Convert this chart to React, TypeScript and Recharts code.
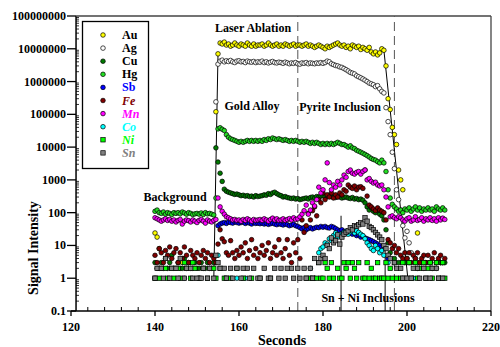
import { ReferenceLine, Scatter, ScatterChart, XAxis, YAxis } from "recharts";

const _ = null;

// sample times, 0.5 s apart
const seconds = [
  140, 140.5, 141, 141.5, 142, 142.5, 143, 143.5, 144, 144.5,
  145, 145.5, 146, 146.5, 147, 147.5, 148, 148.5, 149, 149.5,
  150, 150.5, 151, 151.5, 152, 152.5, 153, 153.5, 154, 154.5,
  155, 155.5, 156, 156.5, 157, 157.5, 158, 158.5, 159, 159.5,
  160, 160.5, 161, 161.5, 162, 162.5, 163, 163.5, 164, 164.5,
  165, 165.5, 166, 166.5, 167, 167.5, 168, 168.5, 169, 169.5,
  170, 170.5, 171, 171.5, 172, 172.5, 173, 173.5, 174, 174.5,
  175, 175.5, 176, 176.5, 177, 177.5, 178, 178.5, 179, 179.5,
  180, 180.5, 181, 181.5, 182, 182.5, 183, 183.5, 184, 184.5,
  185, 185.5, 186, 186.5, 187, 187.5, 188, 188.5, 189, 189.5,
  190, 190.5, 191, 191.5, 192, 192.5, 193, 193.5, 194, 194.5,
  195, 195.5, 196, 196.5, 197, 197.5, 198, 198.5, 199, 199.5,
  200, 200.5, 201, 201.5, 202, 202.5, 203, 203.5, 204, 204.5,
  205, 205.5, 206, 206.5, 207, 207.5, 208, 208.5, 209,
];

const au = [
  24, 18, 8, _, _, _, _, _, _, _,
  _, _, _, 3, _, _, _, _, _, _,
  _, _, _, _, _, _, _, _, _, 1.2e5,
  7e6, 1.5e7, 1.4e7, 1.6e7, 1.3e7, 1.4e7, 1.2e7, 1.3e7, 1.5e7, 1.3e7,
  1.2e7, 1.4e7, 1.3e7, 1.2e7, 1.5e7, 1.3e7, 1.2e7, 1.4e7, 1.2e7, 1.3e7,
  1.3e7, 1.4e7, 1.2e7, 1.3e7, 1.5e7, 1.3e7, 1.2e7, 1.3e7, 1.4e7, 1.2e7,
  1.3e7, 1.2e7, 1.4e7, 1.3e7, 1.2e7, 1.3e7, 1.4e7, 1.2e7, 1.3e7, 1.3e7,
  1.2e7, 1.3e7, 1.4e7, 1.2e7, 1.3e7, 1.2e7, 1.1e7, 1.2e7, 1.3e7, 1.2e7,
  1.1e7, 1.0e7, 1.2e7, 1.1e7, 1.2e7, 1.3e7, 1.4e7, 1.5e7, 1.3e7, 1.2e7,
  1.3e7, 1.1e7, 1.2e7, 1.0e7, 1.3e7, 1.2e7, 1.1e7, 1.2e7, 9.5e6, 1.1e7,
  1.0e7, 9e6, 1.1e7, 8e6, 7e6, 8e6, 6.5e6, 7.5e6, 1.0e7, 9e6,
  3e6, 3e5, 1.4e5, 4e4, 2.4e4, 1.2e4, 2e3, 1e3, 500, _,
  4, _, _, _, _, 24, _, _, 2, _,
  _, _, 2, _, _, _, 3, _, _,
];

const ag = [
  _, _, _, _, _, _, _, _, _, _,
  _, _, _, _, _, _, _, _, _, _,
  _, _, _, _, _, _, _, _, _, 2.4e5,
  3.4e6, 4.2e6, 4.5e6, 4.0e6, 4.3e6, 4.1e6, 4.4e6, 4.0e6, 3.8e6, 4.2e6,
  4.3e6, 4.0e6, 4.1e6, 3.8e6, 4.2e6, 4.0e6, 3.9e6, 4.1e6, 3.8e6, 4.0e6,
  3.9e6, 4.2e6, 3.8e6, 4.0e6, 3.7e6, 3.9e6, 4.1e6, 3.8e6, 3.7e6, 3.9e6,
  3.8e6, 3.6e6, 3.9e6, 3.7e6, 3.5e6, 3.7e6, 3.6e6, 3.8e6, 3.5e6, 3.4e6,
  3.7e6, 3.6e6, 3.8e6, 3.5e6, 3.7e6, 3.6e6, 3.5e6, 3.7e6, 3.6e6, 3.8e6,
  3.6e6, 3.8e6, 4.2e6, 4.0e6, 3.5e6, 3.3e6, 3.1e6, 3.0e6, 2.8e6, 2.7e6,
  2.5e6, 2.3e6, 2.1e6, 1.9e6, 1.8e6, 1.7e6, 1.5e6, 1.4e6, 1.3e6, 1.2e6,
  1.1e6, 1.0e6, 9e5, 8.5e5, 8e5, 7e5, 7.5e5, 6e5, 5e5, 4.5e5,
  1.6e5, 6e4, 2.4e4, 7e3, 2.2e3, 500, 250, 120, 40, 17,
  27, 12, 6, _, 4, _, 3, _, _, _,
  _, 3, _, _, 2, _, _, 3, _,
];

const cu = [
  3, 2, 2, 3, 2, 4, 2, 3, 5, 2,
  2, 3, 2, 2, 4, 2, 3, 2, 2, 3,
  2, 2, 3, 2, 2, 3, 2, 2, 3, 9500,
  3500, 1600, 900, 520, 450, 420, 400, 380, 360, 370,
  350, 330, 340, 320, 330, 310, 320, 300, 330, 310,
  320, 330, 350, 340, 380, 360, 400, 420, 380, 350,
  330, 300, 310, 290, 280, 270, 280, 260, 270, 250,
  260, 270, 280, 260, 290, 300, 280, 310, 300, 320,
  330, 310, 320, 340, 310, 300, 290, 310, 300, 280,
  290, 300, 280, 270, 290, 260, 270, 250, 260, 240,
  200, 150, 120, 140, 110, 100, 120, 90, 80, 60,
  30, 12, 6, _, 4, _, 3, _, _, 3,
  _, 3, _, _, 3, 2, _, 3, _, 3,
  _, 3, 2, _, 3, _, 3, _, 3,
];

const hg = [
  110, 120, 100, 95, 105, 90, 100, 95, 88, 100,
  95, 100, 92, 105, 98, 90, 100, 95, 88, 92,
  95, 90, 98, 88, 100, 92, 95, 90, 85, 280,
  3.6e4, 3.9e4, 3.5e4, 3.2e4, 2.4e4, 2.0e4, 1.8e4, 1.7e4, 1.6e4, 1.5e4,
  1.4e4, 1.5e4, 1.4e4, 1.5e4, 1.6e4, 1.5e4, 1.6e4, 1.5e4, 1.6e4, 1.5e4,
  1.6e4, 1.5e4, 1.7e4, 1.6e4, 1.8e4, 1.7e4, 1.9e4, 1.8e4, 1.7e4, 1.8e4,
  1.7e4, 1.6e4, 1.7e4, 1.6e4, 1.5e4, 1.6e4, 1.5e4, 1.6e4, 1.5e4, 1.4e4,
  1.5e4, 1.4e4, 1.5e4, 1.4e4, 1.3e4, 1.4e4, 1.3e4, 1.4e4, 1.3e4, 1.2e4,
  1.3e4, 1.2e4, 1.3e4, 1.2e4, 1.3e4, 1.2e4, 1.3e4, 1.4e4, 1.3e4, 1.2e4,
  1.2e4, 1.1e4, 1.0e4, 1.1e4, 9.5e3, 9e3, 8e3, 7.5e3, 7e3, 6.5e3,
  6e3, 5.5e3, 5e3, 4.5e3, 4.2e3, 4e3, 3.6e3, 3.3e3, 4e3, 3.3e3,
  1.8e3, 500, 280, 180, 150, 130, 110, 120, 100, 130,
  120, 140, 110, 130, 150, 120, 140, 110, 130, 120,
  140, 120, 130, 110, 150, 130, 120, 140, 120,
];

const sb = [
  _, _, _, _, _, _, _, _, _, _,
  _, _, _, _, _, _, _, _, _, _,
  _, _, _, _, _, _, _, _, _, _,
  40, 45, 48, 50, 47, 52, 50, 48, 52, 50,
  48, 50, 52, 47, 50, 48, 45, 50, 47, 48,
  46, 48, 45, 47, 44, 46, 48, 45, 43, 46,
  44, 42, 45, 43, 40, 42, 44, 40, 38, 35,
  32, 35, 30, 33, 35, 32, 34, 36, 35, 38,
  36, 38, 35, 34, 38, 36, 33, 30, 28, 30,
  27, 25, 26, 24, 22, 23, 20, 21, 18, 19,
  17, 16, 15, 14, 13, 12, 11, 10, 9, 8,
  _, 4, _, _, _, _, _, _, _, _,
  _, _, _, _, _, _, _, _, _, _,
  _, _, _, _, _, _, _, _, _,
];

const fe = [
  5, 3, 8, 6, 3, 7, 5, 9, 4, 6,
  8, 3, 6, 4, 9, 5, 3, 7, 5, 4,
  6, 3, 5, 7, 4, 6, 3, 5, 4, 3,
  11, 30, 16, 13, 6, 5, 14, 6, 4, 7,
  5, 9, 6, 12, 4, 7, 15, 5, 8, 4,
  6, 10, 5, 7, 12, 4, 6, 9, 5, 15,
  6, 4, 8, 15, 5, 3, 12, 6, 15, 4,
  60, 25, 40, 95, 60, 115, 150, 80, 250, 200,
  400, 250, 350, 300, 400, 280, 350, 300, 400, 350,
  500, 450, 700, 600, 550, 650, 500, 600, 620, 550,
  2000, 320, 170, 150, 130, 115, 140, 120, 110, 100,
  60, 15, 12, 8, 10, 6, 8, 5, 4, 6,
  4, 6, 3, 5, 4, 6, 3, 4, 5, 3,
  5, 3, 4, 6, 3, 4, 5, 3, 4,
];

const mn = [
  70, 65, 60, 55, 60, 65, 58, 62, 55, 60,
  52, 58, 62, 45, 55, 60, 57, 52, 60, 55,
  50, 58, 62, 55, 48, 60, 55, 52, 58, 62,
  280, 150, 110, 90, 75, 70, 65, 60, 62, 58,
  60, 55, 62, 58, 65, 60, 55, 62, 58, 60,
  62, 58, 65, 60, 55, 62, 68, 60, 65, 58,
  60, 65, 58, 62, 66, 60, 70, 62, 65, 75,
  90, 115, 170, 90, 120, 200, 160, 250, 600, 400,
  500, 1000, 3300, 830, 500, 700, 600, 900, 700, 1000,
  1400, 1200, 1800, 2000, 1600, 1500, 1700, 1800, 1500, 1800,
  2000, 1000, 1100, 900, 800, 850, 700, 650, 700, 500,
  300, 150, 75, 80, 70, 65, 75, 70, 60, 55,
  65, 70, 55, 60, 75, 58, 62, 70, 55, 65,
  60, 70, 58, 65, 55, 70, 60, 68, 62,
];

const co = [
  1, _, _, _, _, _, _, _, _, _,
  _, _, _, _, 1, _, _, _, _, _,
  _, 1, _, _, _, _, _, _, _, _,
  5, _, _, _, _, _, _, _, _, 1,
  _, _, _, 1, _, _, _, _, _, _,
  _, _, _, _, _, _, _, _, _, _,
  _, _, _, _, _, _, _, _, _, _,
  _, _, _, _, 2, _, 1, _, 6, 8,
  9, 12, 11, 16, 14, 20, 24, 18, 22, 20,
  25, 27, 22, 26, 30, 24, 28, 25, 22, 20,
  16, 12, 10, 8, 7, 10, 8, 6, 7, 5,
  _, 3, _, _, _, _, _, _, _, _,
  _, _, _, 1, _, _, _, _, _, _,
  _, _, _, _, _, _, 1, _, _,
];

const ni = [
  1, _, 1, 2, _, 2, 1, _, 2, 1,
  _, 2, 1, _, 3, 2, _, 1, 3, 2,
  _, 1, _, 2, _, 1, _, _, 2, 1,
  _, 2, _, 1, 1, _, 1, _, _, 2,
  _, _, 1, _, _, _, 1, _, _, _,
  1, _, _, _, _, 1, _, _, _, _,
  _, _, _, _, _, _, _, _, _, _,
  _, _, 1, _, 1, 1, _, 1, 3, 1,
  1, 3, 2, 1, 3, 1, _, 2, 1, 1,
  3, 2, 3, 1, 3, 2, 1, 3, _, 1,
  1, 3, 1, 2, 1, 1, 3, 1, 1, 1,
  3, 1, 2, 1, 3, 1, _, 1, 3, 1,
  _, 3, 1, _, 3, 1, 2, _, 3, 1,
  2, 3, 1, _, 3, 1, _, 3, 1,
];

const sn = [
  1, 2, _, 2, 1, 4, _, 1, 2, _,
  2, 1, 4, _, 1, 2, _, 2, 1, _,
  1, _, 1, 2, _, 1, 2, _, 1, 5,
  3, 2, _, 2, 1, _, 2, 1, _, 2,
  _, 1, 2, _, 2, 1, _, 2, _, 1,
  1, _, 2, _, 1, 1, _, 2, _, 1,
  2, _, 1, 2, _, 2, 1, _, 2, 1,
  _, 2, 1, _, 2, 1, 4, _, 3, 4,
  5, 4, 10, 8, 17, 12, 14, 21, 11, 18,
  22, 25, 28, 35, 30, 40, 38, 43, 50, 45,
  70, 55, 38, 35, 30, 25, 21, 18, 15, 10,
  8, 5, 4, _, 3, 2, _, 2, 1, _,
  1, _, 1, 2, _, 2, 1, _, 2, 1,
  _, 1, 2, _, 2, 1, _, 1, _,
];

const xMajor = [120, 140, 160, 180, 200, 220];
const xMinor = [124, 128, 132, 136, 144, 148, 152, 156, 164, 168, 172, 176, 184, 188, 192, 196, 204, 208, 212, 216];
const yMajor = [0.1, 1, 10, 100, 1000, 10000, 100000, 1000000, 10000000, 100000000];
const yMinorSteps = [2, 3, 4, 5, 6, 7, 8, 9];
const yMinor = yMajor.slice(0, -1).flatMap((m) => yMinorSteps.map((s) => m * s));

const SERIES = [
  { name: "Au", values: au, fill: "#ffff00", square: false, text: "#000000", italic: false },
  { name: "Ag", values: ag, fill: "#ffffff", square: false, text: "#000000", italic: false },
  { name: "Cu", values: cu, fill: "#007a00", square: false, text: "#000000", italic: false },
  { name: "Hg", values: hg, fill: "#22dd22", square: false, text: "#000000", italic: false },
  { name: "Sb", values: sb, fill: "#0000ff", square: false, text: "#0000ff", italic: false },
  { name: "Fe", values: fe, fill: "#800000", square: false, text: "#800000", italic: true },
  { name: "Mn", values: mn, fill: "#ff00ff", square: false, text: "#ff00ff", italic: true },
  { name: "Co", values: co, fill: "#00ffff", square: false, text: "#00ffff", italic: true },
  { name: "Ni", values: ni, fill: "#00ff00", square: true, text: "#00ff00", italic: true },
  { name: "Sn", values: sn, fill: "#808080", square: true, text: "#808080", italic: true },
];

const FONT = "'Liberation Serif', 'Times New Roman', serif";
const AXIS_SHIFT = 5; // y axis sits a little right of the 120 s tick

function toPoints(values: (number | null)[]) {
  return seconds
    .map((t, i) => ({ t, v: values[i] }))
    .filter((p) => p.v !== null && p.v !== undefined);
}

function marker(fill: string, square: boolean) {
  return (p: any) =>
    square ? (
      <rect x={p.cx - 2.2} y={p.cy - 2.2} width={4.4} height={4.4} fill={fill} stroke="#000" strokeWidth={0.7} />
    ) : (
      <circle cx={p.cx} cy={p.cy} r={2.3} fill={fill} stroke="#000" strokeWidth={0.7} />
    );
}

function XTick({ x, y, payload }: any) {
  if (xMajor.includes(payload.value)) {
    return (
      <g>
        <line x1={x} x2={x} y1={y} y2={y + 5} stroke="#000" strokeWidth={1.3} />
        <text x={x} y={y + 16} textAnchor="middle" dominantBaseline="central" fontFamily={FONT} fontWeight="bold" fontSize={12} fill="#000">
          {payload.value}
        </text>
      </g>
    );
  }
  return <line x1={x} x2={x} y1={y} y2={y - 4} stroke="#000" strokeWidth={1} />;
}

function YTick({ x, y, payload }: any) {
  const ax = x + AXIS_SHIFT;
  if (yMajor.includes(payload.value)) {
    return (
      <g>
        <line x1={ax - 9} x2={ax} y1={y} y2={y} stroke="#000" strokeWidth={1.3} />
        <text x={ax - 10} y={y} textAnchor="end" dominantBaseline="central" fontFamily={FONT} fontWeight="bold" fontSize={12} fill="#000">
          {String(payload.value)}
        </text>
      </g>
    );
  }
  return <line x1={ax} x2={ax + 3} y1={y} y2={y} stroke="#000" strokeWidth={0.8} />;
}

const textStyle = { fontFamily: FONT, fontWeight: "bold" as const, fontSize: 12, fill: "#000" };

export default function App() {
  return (
    <div style={{ position: "absolute", left: 0, top: 0, width: 500, height: 347, background: "#fff" }}>
      <ScatterChart width={500} height={347} margin={{ top: 16, right: 9, bottom: 0, left: 0 }}>
        <XAxis
          dataKey="t"
          type="number"
          domain={[120, 220]}
          ticks={[...xMajor, ...xMinor]}
          interval={0}
          tick={<XTick />}
          tickLine={false}
          tickSize={0}
          tickMargin={0}
          height={36}
          axisLine={{ stroke: "#000", strokeWidth: 1.5 }}
        />
        <YAxis
          dataKey="v"
          type="number"
          scale="log"
          domain={[0.1, 100000000]}
          allowDataOverflow
          ticks={[...yMajor, ...yMinor]}
          interval={0}
          tick={<YTick />}
          tickLine={false}
          tickSize={0}
          tickMargin={0}
          width={71}
          axisLine={false}
        />
        <ReferenceLine x={121.2} stroke="#000" strokeWidth={1.5} />
        <ReferenceLine segment={[{ x: 121.2, y: 100000000 }, { x: 220, y: 100000000 }]} stroke="#444" strokeWidth={1.3} />
        <ReferenceLine x={220} stroke="#444" strokeWidth={1.3} />
        <ReferenceLine x={174} stroke="#555" strokeDasharray="9 5" strokeWidth={1} />
        <ReferenceLine x={197} stroke="#555" strokeDasharray="9 5" strokeWidth={1} />
        <ReferenceLine segment={[{ x: 154, y: 1 }, { x: 155, y: 7000000 }]} stroke="#000" strokeWidth={1} />
        <ReferenceLine segment={[{ x: 194.5, y: 9000000 }, { x: 200.2, y: 1 }]} stroke="#000" strokeWidth={1} />
        <ReferenceLine segment={[{ x: 184.3, y: 80 }, { x: 184.3, y: 0.1 }]} stroke="#333" strokeWidth={1.2} />
        <ReferenceLine segment={[{ x: 194.8, y: 8 }, { x: 194.8, y: 0.1 }]} stroke="#333" strokeWidth={1.2} />
        {SERIES.map((s) => (
          <Scatter
            key={s.name}
            name={s.name}
            data={toPoints(s.values)}
            dataKey="v"
            shape={marker(s.fill, s.square)}
            isAnimationActive={false}
          />
        ))}
      </ScatterChart>

      <svg width={500} height={347} style={{ position: "absolute", left: 0, top: 0, pointerEvents: "none" }}>
        <text x={253} y={28} textAnchor="middle" dominantBaseline="central" {...textStyle}>Laser Ablation</text>
        <text x={252} y={106} textAnchor="middle" dominantBaseline="central" {...textStyle}>Gold Alloy</text>
        <text x={340} y={107} textAnchor="middle" dominantBaseline="central" {...textStyle}>Pyrite Inclusion</text>
        <text x={175} y={197} textAnchor="middle" dominantBaseline="central" {...textStyle}>Background</text>
        <text x={368} y={298} textAnchor="middle" dominantBaseline="central" {...textStyle}>Sn + Ni Inclusions</text>
        <text x={282} y={340} textAnchor="middle" dominantBaseline="central" {...textStyle} fontSize={14}>Seconds</text>
        <text
          transform="translate(33,248) rotate(-90)"
          textAnchor="middle"
          dominantBaseline="central"
          {...textStyle}
          fontSize={14}
        >
          Signal Intensity
        </text>

        <rect x={82.5} y={21.5} width={66} height={147} fill="#fff" stroke="#000" strokeWidth={1.3} />
        {SERIES.map((s, i) => {
          const cy = 35 + i * 13.1;
          return (
            <g key={s.name}>
              {s.square ? (
                <rect x={100.8} y={cy - 2.2} width={4.4} height={4.4} fill={s.fill} stroke="#000" strokeWidth={0.7} />
              ) : (
                <circle cx={103} cy={cy} r={2.3} fill={s.fill} stroke="#000" strokeWidth={0.7} />
              )}
              <text
                x={122}
                y={cy}
                dominantBaseline="central"
                fontFamily={FONT}
                fontWeight="bold"
                fontStyle={s.italic ? "italic" : "normal"}
                fontSize={12}
                fill={s.text}
              >
                {s.name}
              </text>
            </g>
          );
        })}
      </svg>
    </div>
  );
}
